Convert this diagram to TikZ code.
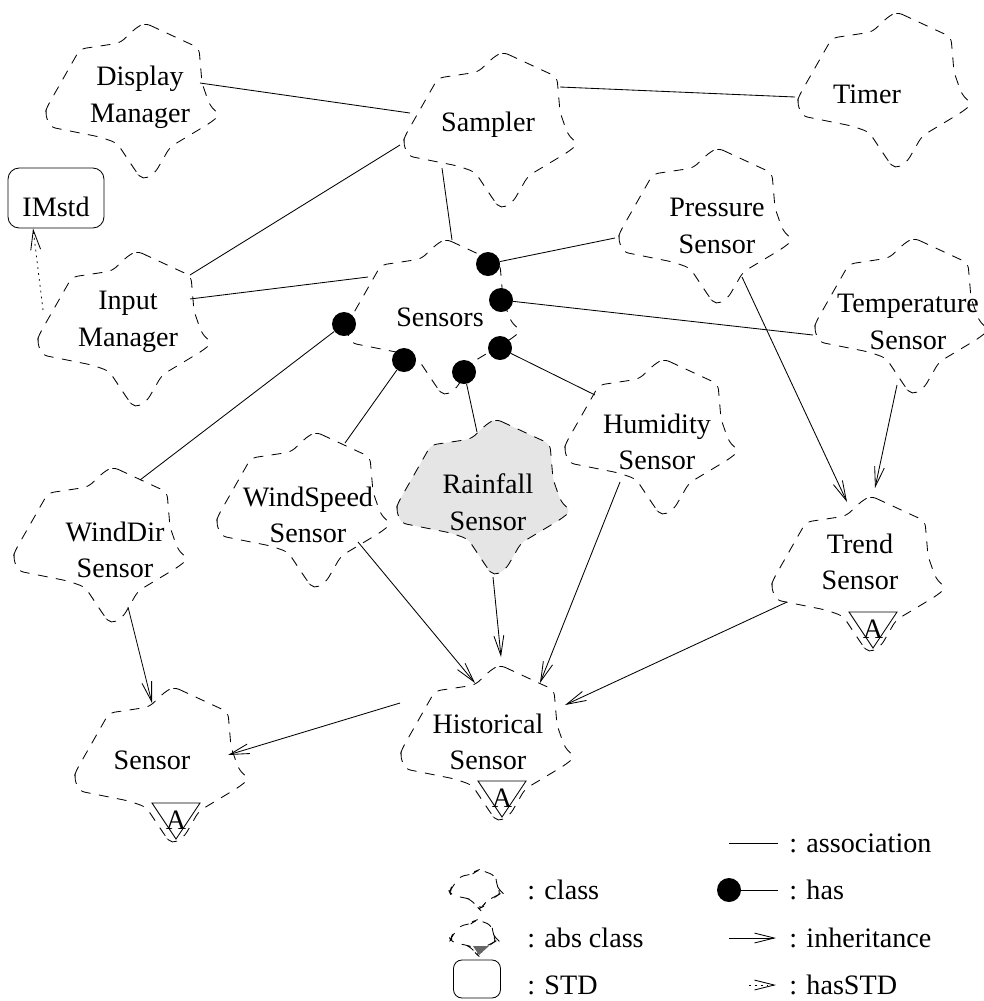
\documentclass[tikz,border=0pt]{standalone}
\usepackage{fontspec}
\setmainfont{Liberation Serif}
\usetikzlibrary{arrows.meta,backgrounds}
\usepackage{xcolor}

\newcommand{\clsfont}{\fontsize{20}{26}\selectfont}
\colorlet{rainfill}{gray!20}

\begin{document}
\begin{tikzpicture}[x=0.025cm, y=-0.025cm,
    cls/.style={
        align=center,
        inner sep=0pt,
        font=\clsfont
    },
    cloudline/.style={
        dash pattern=on 7pt off 6pt,
        line width=0.6pt,
        rounded corners=4pt
    },
    stdbox/.style={
        draw,
        rectangle,
        rounded corners=8pt,
        line width=0.6pt,
        minimum width=2.4cm,
        minimum height=1.5cm,
        inner sep=0pt,
        text height=27pt,
        text depth=0pt,
        font=\clsfont
    },
    hasdot/.style={
        circle,
        fill=black,
        inner sep=0pt,
        minimum size=0.6cm
    },
    legtext/.style={
        anchor=west,
        inner sep=0pt,
        font=\clsfont
    },
    assoc/.style={
        line width=0.6pt
    },
    inherit/.style={
        line width=0.6pt,
        -{Straight Barb[length=14pt,width=7pt]}
    },
    hasstd/.style={
        line width=0.6pt,
        dash pattern=on 1.2pt off 3pt,
        -{Straight Barb[length=14pt,width=7pt]}
    },
    pics/booch/.style={code={
        \draw[cloudline,#1] (5,-74) -- (59,-49) -- (62,-14) -- (70,9) -- (80,18)
            -- (70,26) -- (30,50) -- (15,76) -- (3,83) -- (-3,76) -- (-23,46)
            -- (-40,40) -- (-90,30) -- (-95,16) -- (-93,10) -- (-60,-48)
            -- (-20,-54) -- (-3,-70) -- cycle;
    }},
    pics/booch/.default={},
    pics/abstag/.style={code={
        \draw[line width=0.6pt] (-17,42) -- (31,42) -- (7,78) -- cycle;
    }}
]
    \useasboundingbox (0,0) rectangle (984,1001);

    % classes
    \node[cls] (dm) at (140,97) {Display\\Manager};
    \node[cls] (samp) at (488,125) {Sampler};
    \node[cls] (timer) at (867,94) {Timer};
    \node[stdbox] (imstd) at (56,198) {IMstd};
    \node[cls] (pres) at (717,226) {Pressure\\Sensor};
    \node[cls] (sensors) at (440,317) {Sensors};
    \node[cls] (im) at (128,322) {Input\\Manager};
    \node[cls] (temp) at (908,322) {Temperature\\Sensor};
    \node[cls] (humid) at (657,442) {Humidity\\Sensor};
    \node[cls] (rain) at (488,502) {Rainfall\\Sensor};
    \node[cls] (wspeed) at (308,515) {WindSpeed\\Sensor};
    \node[cls] (wdir) at (115,550) {WindDir\\Sensor};
    \node[cls] (trend) at (860,562) {Trend\\Sensor};
    \node[cls] (hist) at (488,742) {Historical\\Sensor};
    \node[cls] (sensor) at (152,760) {Sensor};

    % abstract class tags
    \node[cls] (trendA) at ([shift={(13,67)}]trend.center) {A};
    \node[cls] (histA) at ([shift={(14,56)}]hist.center) {A};
    \node[cls] (sensorA) at ([shift={(24,60)}]sensor.center) {A};

    % has ends on Sensors
    \node[hasdot] (hpres) at ([shift={(48,-53)}]sensors.center) {};
    \node[hasdot] (htemp) at ([shift={(61,-17)}]sensors.center) {};
    \node[hasdot] (hhumid) at ([shift={(60,31)}]sensors.center) {};
    \node[hasdot] (hrain) at ([shift={(24,55)}]sensors.center) {};
    \node[hasdot] (hwspeed) at ([shift={(-36,43)}]sensors.center) {};
    \node[hasdot] (hwdir) at ([shift={(-96,7)}]sensors.center) {};

    % associations
    \draw[assoc] ([shift={(60,-14)}]dm.center) -- ([shift={(-78,-12)}]samp.center);
    \draw[assoc] ([shift={(72,-38)}]samp.center) -- ([shift={(-72,3)}]timer.center);
    \draw[assoc] ([shift={(62,-47)}]im.center) -- ([shift={(-88,20)}]samp.center);
    \draw[assoc] ([shift={(62,-23)}]im.center) -- ([shift={(-72,-40)}]sensors.center);
    \draw[assoc] ([shift={(-46,43)}]samp.center) -- ([shift={(12,-77)}]sensors.center);

    % has relations
    \draw[assoc] (hpres) -- ([shift={(-102,12)}]pres.center);
    \draw[assoc] (htemp) -- ([shift={(-95,13)}]temp.center);
    \draw[assoc] (hhumid) -- ([shift={(-62,-47)}]humid.center);
    \draw[assoc] (hrain) -- ([shift={(-11,-70)}]rain.center);
    \draw[assoc] (hwspeed) -- ([shift={(37,-72)}]wspeed.center);
    \draw[assoc] (hwdir) -- ([shift={(25,-70)}]wdir.center);

    % inheritance
    \draw[inherit] ([shift={(13,57)}]wdir.center) -- ([shift={(0,-57)}]sensor.center);
    \draw[inherit] ([shift={(50,27)}]wspeed.center) -- ([shift={(-13,-59)}]hist.center);
    \draw[inherit] ([shift={(5,75)}]rain.center) -- ([shift={(13,-85)}]hist.center);
    \draw[inherit] ([shift={(-37,40)}]humid.center) -- ([shift={(52,-59)}]hist.center);
    \draw[inherit] ([shift={(-73,40)}]trend.center) -- ([shift={(77,-37)}]hist.center);
    \draw[inherit] ([shift={(-88,-39)}]hist.center) -- ([shift={(76,-5)}]sensor.center);
    \draw[inherit] ([shift={(25,51)}]pres.center) -- ([shift={(-13,-60)}]trend.center);
    \draw[inherit] ([shift={(-11,63)}]temp.center) -- ([shift={(15,-74)}]trend.center);
    \draw[hasstd] ([shift={(-85,-12)}]im.center) -- (imstd.233);

    % legend
    \node[legtext] (lassoc) at (789,843) {: association};
    \node[legtext] (lhas) at (789,890) {: has};
    \node[legtext] (linh) at (789,938) {: inheritance};
    \node[legtext] (lhasstd) at (789,985) {: hasSTD};
    \node[legtext] (lclass) at (527,890) {: class};
    \node[legtext] (labs) at (527,938) {: abs class};
    \node[legtext] (lstd) at (527,985) {: STD};
    \node[hasdot] (lhasdot) at ([shift={(-60,0)}]lhas.west) {};
    \node[stdbox, minimum width=1.175cm, minimum height=0.7cm, rounded corners=6pt]
        (lstdbox) at ([shift={(-50,-6)}]lstd.west) {};

    \draw[assoc] ([shift={(-60,0)}]lassoc.west) -- ([shift={(-11,0)}]lassoc.west);
    \draw[assoc] (lhasdot) -- ([shift={(-11,0)}]lhas.west);
    \draw[inherit] ([shift={(-60,0)}]linh.west) -- ([shift={(-13,0)}]linh.west);
    \draw[hasstd] ([shift={(-40,0)}]lhasstd.west) -- ([shift={(-13,0)}]lhasstd.west);

    % cloud outlines behind the text
    \begin{pgfonlayer}{background}
        \foreach \c/\ox/\oy in {dm/0/0, samp/10/1, timer/25/-8, pres/-4/-4,
                sensors/1/-4, im/4/3, temp/1/-10, humid/2/-9, wspeed/3/-9,
                wdir/-7/-9, trend/6/8, hist/7/-3, sensor/17/1}
            \pic at ([shift={(\ox,\oy)}]\c.center) {booch};
        \pic at ([shift={(3,-9)}]rain.center) {booch={fill=rainfill}};
        \foreach \c/\ox/\oy in {trend/6/8, hist/7/-3, sensor/17/1}
            \pic at ([shift={(\ox,\oy)}]\c.center) {abstag};
        \pic[xscale=0.3, yscale=0.25] at ([shift={(-49,-2)}]lclass.west) {booch};
        \pic[xscale=0.27, yscale=0.22] at ([shift={(-51,-2)}]labs.west) {booch};
        \fill[black!60] ([shift={(-54,8)}]labs.west) -- ([shift={(-38,8)}]labs.west)
            -- ([shift={(-48,17)}]labs.west) -- cycle;
    \end{pgfonlayer}
\end{tikzpicture}
\end{document}
